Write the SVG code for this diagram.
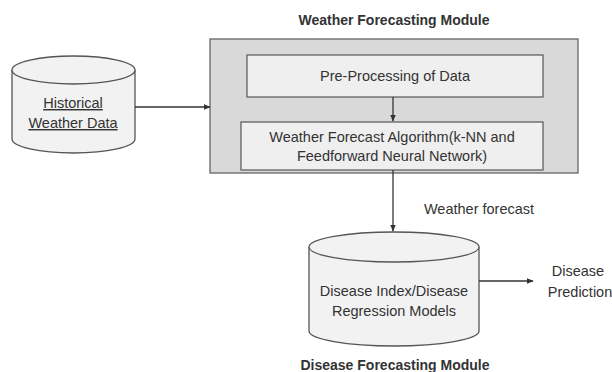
<svg xmlns="http://www.w3.org/2000/svg" width="612" height="372" viewBox="0 0 612 372">
<defs>
<marker id="ah" viewBox="0 0 10 10" refX="9" refY="5" markerWidth="7" markerHeight="7" orient="auto" markerUnits="userSpaceOnUse"><path d="M0,1 L10,5 L0,9 z" fill="#333"/></marker>
<style>
text{font-family:"Liberation Sans",Arial,sans-serif;font-size:14.5px;fill:#333;text-anchor:middle}
.b{font-weight:bold;font-size:14px}
.edge{stroke:#333;stroke-width:1.3;fill:none;marker-end:url(#ah)}
.cyl{fill:#f2f2f2;stroke:#555;stroke-width:1.3}
</style>
</defs>
<rect width="612" height="372" fill="#fff"/>
<text class="b" x="394" y="25">Weather  Forecasting Module</text>
<g id="module">
<rect x="210" y="39" width="368" height="134" fill="#d9d9d9" stroke="#666" stroke-width="1.3"/>
</g>
<g id="preprocessing">
<rect x="247" y="55" width="296" height="42" fill="#efefef" stroke="#555" stroke-width="1.2"/>
<text x="395" y="81">Pre-Processing  of Data</text>
</g>
<g id="algorithm">
<rect x="241" y="122" width="302" height="48" fill="#efefef" stroke="#555" stroke-width="1.2"/>
<text x="392" y="142">Weather Forecast Algorithm(k-NN and</text>
<text x="392" y="161">Feedforward Neural Network)</text>
</g>
<g id="historical">
<path class="cyl" d="M12,70 L12,139 A61.5,14 0 0 0 135,139 L135,70"/>
<ellipse class="cyl" cx="73.5" cy="70" rx="61.5" ry="14"/>
<text x="73" y="108" text-decoration="underline">Historical</text>
<text x="73" y="128" text-decoration="underline">Weather Data</text>
</g>
<g id="disease">
<path class="cyl" d="M309,247 L309,331 A85,15 0 0 0 479,331 L479,247"/>
<ellipse class="cyl" cx="394" cy="247" rx="85" ry="15"/>
<text x="394" y="296">Disease Index/Disease</text>
<text x="394" y="316">Regression Models</text>
</g>
<g id="prediction">
<text x="578" y="276">Disease</text>
<text x="580" y="297">Prediction</text>
</g>
<text class="b" x="395" y="370">Disease Forecasting Module</text>
<g id="connectors">
<path class="edge" d="M135,107 L210,107"/>
<path class="edge" d="M393,97 L393,121"/>
<path class="edge" d="M393,170 L393,231"/>
<path class="edge" d="M479,281 L533,281"/>
<text x="479" y="214">Weather forecast</text>
</g>
</svg>
